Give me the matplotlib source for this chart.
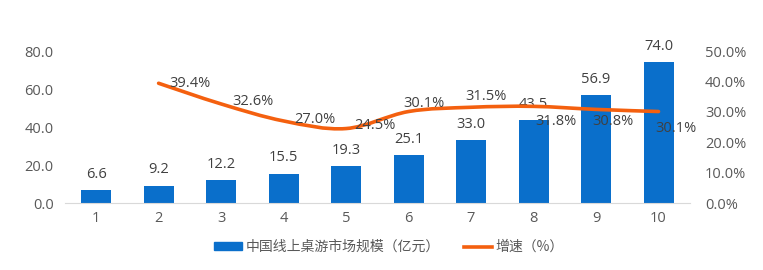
import matplotlib
matplotlib.use("Agg")
import matplotlib.pyplot as plt
from matplotlib.path import Path
from matplotlib.patches import PathPatch
from matplotlib.lines import Line2D
from matplotlib.patches import Patch

plt.rcParams['font.family'] = ['Open Sans', 'Noto Sans CJK SC', 'DejaVu Sans']

categories = ['1', '2', '3', '4', '5', '6', '7', '8', '9', '10']
market = [6.6, 9.2, 12.2, 15.5, 19.3, 25.1, 33.0, 43.5, 56.9, 74.0]
growth_cats = [2, 3, 4, 5, 6, 7, 8, 9, 10]
growth = [39.4, 32.6, 27.0, 24.5, 30.1, 31.5, 31.8, 30.8, 30.1]
# label offsets in points (dx, dy) for growth labels
growth_offsets = [(8, 0), (8, 2), (8, 1), (6, 2), (-4, 6), (-4, 8), (1, -11), (-3, -9), (-2, -12)]

bar_color = '#0A6FCB'
line_color = '#F4600F'
text_color = '#404040'
tick_color = '#595959'
fs = 10.5

fig = plt.figure(figsize=(7.63, 2.70), dpi=100)
ax = fig.add_axes([0.085, 0.248, 0.819, 0.563])
ax2 = ax.twinx()

x = list(range(1, len(categories) + 1))
ax.bar(x, market, width=0.48, color=bar_color, zorder=2)
for xi, v in zip(x, market):
    ax.annotate(f'{v:.1f}', (xi, v), xytext=(0, 6), textcoords='offset points',
                ha='center', va='bottom', fontsize=fs, color=text_color)

ax.set_xlim(0.5, 10.5)
ax.set_ylim(0, 80)
ax.set_yticks([0, 20, 40, 60, 80])
ax.set_yticklabels([f'{t:.1f}' for t in [0, 20, 40, 60, 80]])
ax.set_xticks(x)
ax.set_xticklabels(categories)
ax2.set_ylim(0, 50)
ax2.set_yticks([0, 10, 20, 30, 40, 50])
ax2.set_yticklabels([f'{t:.1f}%' for t in [0, 10, 20, 30, 40, 50]])

for a in (ax, ax2):
    for s in a.spines.values():
        s.set_visible(False)
    a.tick_params(length=0, labelsize=fs, colors=tick_color)
ax.spines['bottom'].set_visible(True)
ax.spines['bottom'].set_color('#D9D9D9')
ax.tick_params(axis='x', pad=6)
ax.tick_params(axis='y', pad=8)
ax2.tick_params(axis='y', pad=11)

# smoothed line (Catmull-Rom as cubic Bezier segments)
pts = list(zip(growth_cats, growth))
verts = [pts[0]]
codes = [Path.MOVETO]
t = 1 / 6
for i in range(len(pts) - 1):
    p0 = pts[i - 1] if i > 0 else pts[i]
    p1 = pts[i]
    p2 = pts[i + 1]
    p3 = pts[i + 2] if i + 2 < len(pts) else pts[i + 1]
    c1 = (p1[0] + (p2[0] - p0[0]) * t, p1[1] + (p2[1] - p0[1]) * t)
    c2 = (p2[0] - (p3[0] - p1[0]) * t, p2[1] - (p3[1] - p1[1]) * t)
    verts += [c1, c2, p2]
    codes += [Path.CURVE4] * 3
ax2.add_patch(PathPatch(Path(verts, codes), fill=False, edgecolor=line_color,
                        lw=2.6, capstyle='round', zorder=3))

for c, g, (dx, dy) in zip(growth_cats, growth, growth_offsets):
    ax2.annotate(f'{g:.1f}%', (c, g), xytext=(dx, dy), textcoords='offset points',
                 ha='left', va='center', fontsize=fs, color=text_color, zorder=4)

handles = [Patch(color=bar_color), Line2D([0], [0], color=line_color, lw=2.6)]
fig.legend(handles, ['中国线上桌游市场规模（亿元）', '增速（%）'], loc='center',
           bbox_to_anchor=(0.510, 0.085), ncol=2, frameon=False, fontsize=10,
           prop={'family': ['Noto Sans CJK SC', 'DejaVu Sans'], 'size': 10},
           handlelength=2.0, handleheight=0.5, columnspacing=1.75, handletextpad=0.25,
           labelcolor=tick_color)

fig.savefig('out.png', dpi=100)
